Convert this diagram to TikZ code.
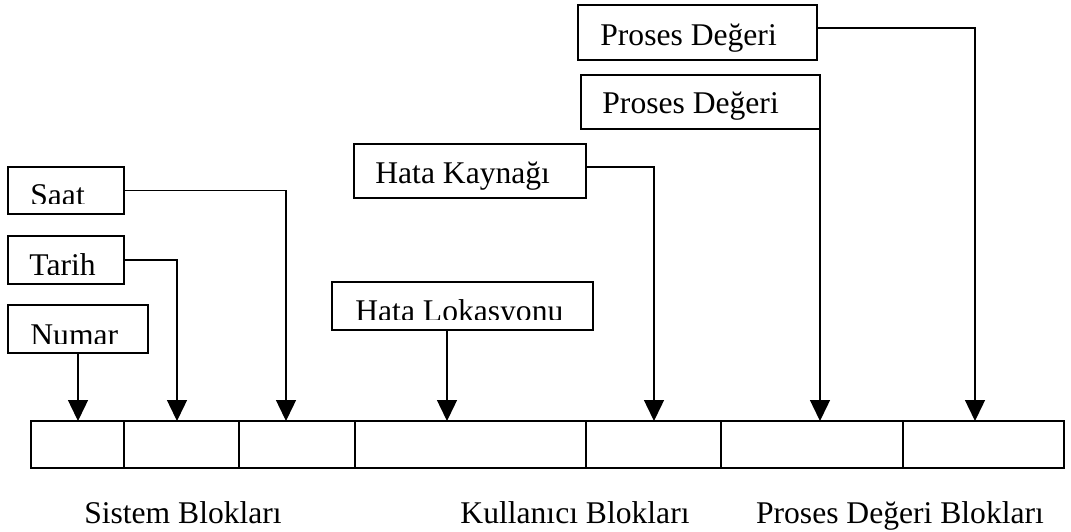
\documentclass[tikz,border=0pt]{standalone}
\usepackage{fontspec}
\setmainfont{Liberation Serif}
\usetikzlibrary{arrows.meta}

\tikzset{
  lbox/.style={draw, line width=0.7pt, inner sep=0pt, outer sep=0pt},
  cell/.style={draw, line width=0.7pt, inner sep=0pt, outer sep=0pt, minimum height=23.5pt},
  txt/.style={anchor=base west, inner sep=0pt},
  blkcap/.style={anchor=base, inner sep=0pt},
  wire/.style={line width=0.7pt},
  arr/.style={wire, -{Triangle[length=10.5pt,width=10pt]}}
}

\begin{document}
\begin{tikzpicture}[x=0.5pt, y=-0.5pt, font=\fontsize{15.8}{18}\selectfont]
\useasboundingbox (0,0) rectangle (1071,531);
% label boxes
\node[lbox, minimum width=58pt, minimum height=23.5pt] (saat) at (66,190.5) {};
\node[lbox, minimum width=58pt, minimum height=24pt] (tarih) at (66,260) {};
\node[lbox, minimum width=70pt, minimum height=24pt] (numar) at (78,329) {};
\node[lbox, minimum width=116pt, minimum height=27pt] (hkay) at (470,171) {};
\node[lbox, minimum width=130.5pt, minimum height=24pt] (hlok) at (462.5,306) {};
\node[lbox, minimum width=119.5pt, minimum height=27.5pt] (pd1) at (697.5,32.5) {};
\node[lbox, minimum width=119.5pt, minimum height=27pt] (pd2) at (700.5,102) {};
% texts (cut off at the box bottom)
\begin{scope}
\clip (8,167) rectangle (124,203);
\node[txt] (saatT) at (30,205) {Saat};
\end{scope}
\begin{scope}
\clip (8,236) rectangle (124,274);
\node[txt] (tarihT) at (29,275.5) {Tarih};
\end{scope}
\begin{scope}
\clip (8,305) rectangle (148,343);
\node[txt] (numarT) at (30,345) {Numar};
\end{scope}
\begin{scope}
\clip (332,282) rectangle (593,319);
\node[txt] (hlokT) at (355,321) {Hata Lokasyonu};
\end{scope}
\node[txt] (hkayT) at (375,183) {Hata Kaynağı};
\node[txt] (pd1T) at (600,45) {Proses Değeri};
\node[txt] (pd2T) at (602,113) {Proses Değeri};
% block row
\foreach \a/\b [count=\i] in {31/124,124/239,239/355,355/586,586/721,721/903,903/1064}
  \node[cell, minimum width={(\b-\a)*0.5pt}] (c\i) at ({(\a+\b)/2},444.5) {};
% drop points
\coordinate (xTarih) at (177,0);
\coordinate (xSaat) at (286,0);
\coordinate (xLok) at (447,0);
\coordinate (xKay) at (654,0);
\coordinate (xPd1) at (975,0);
% connectors
\draw[arr] (numar.south) -- (numar.south |- c1.north);
\draw[arr] (tarih.east) -| (xTarih |- c2.north);
\draw[arr] (saat.east) -| (xSaat |- c3.north);
\draw[arr] (xLok |- hlok.south) -- (xLok |- c4.north);
\draw[arr] ([yshift=2pt]hkay.east) -| (xKay |- c5.north);
\draw[arr] (pd2.south east) -- (pd2.south east |- c6.north);
\draw[arr] ([yshift=2.25pt]pd1.east) -| (xPd1 |- c7.north);
% captions
\node[blkcap] (sis) at (183,523) {Sistem Blokları};
\node[blkcap] (kul) at (575,523) {Kullanıcı Blokları};
\node[blkcap] (pro) at (900,523) {Proses Değeri Blokları};
\end{tikzpicture}
\end{document}
